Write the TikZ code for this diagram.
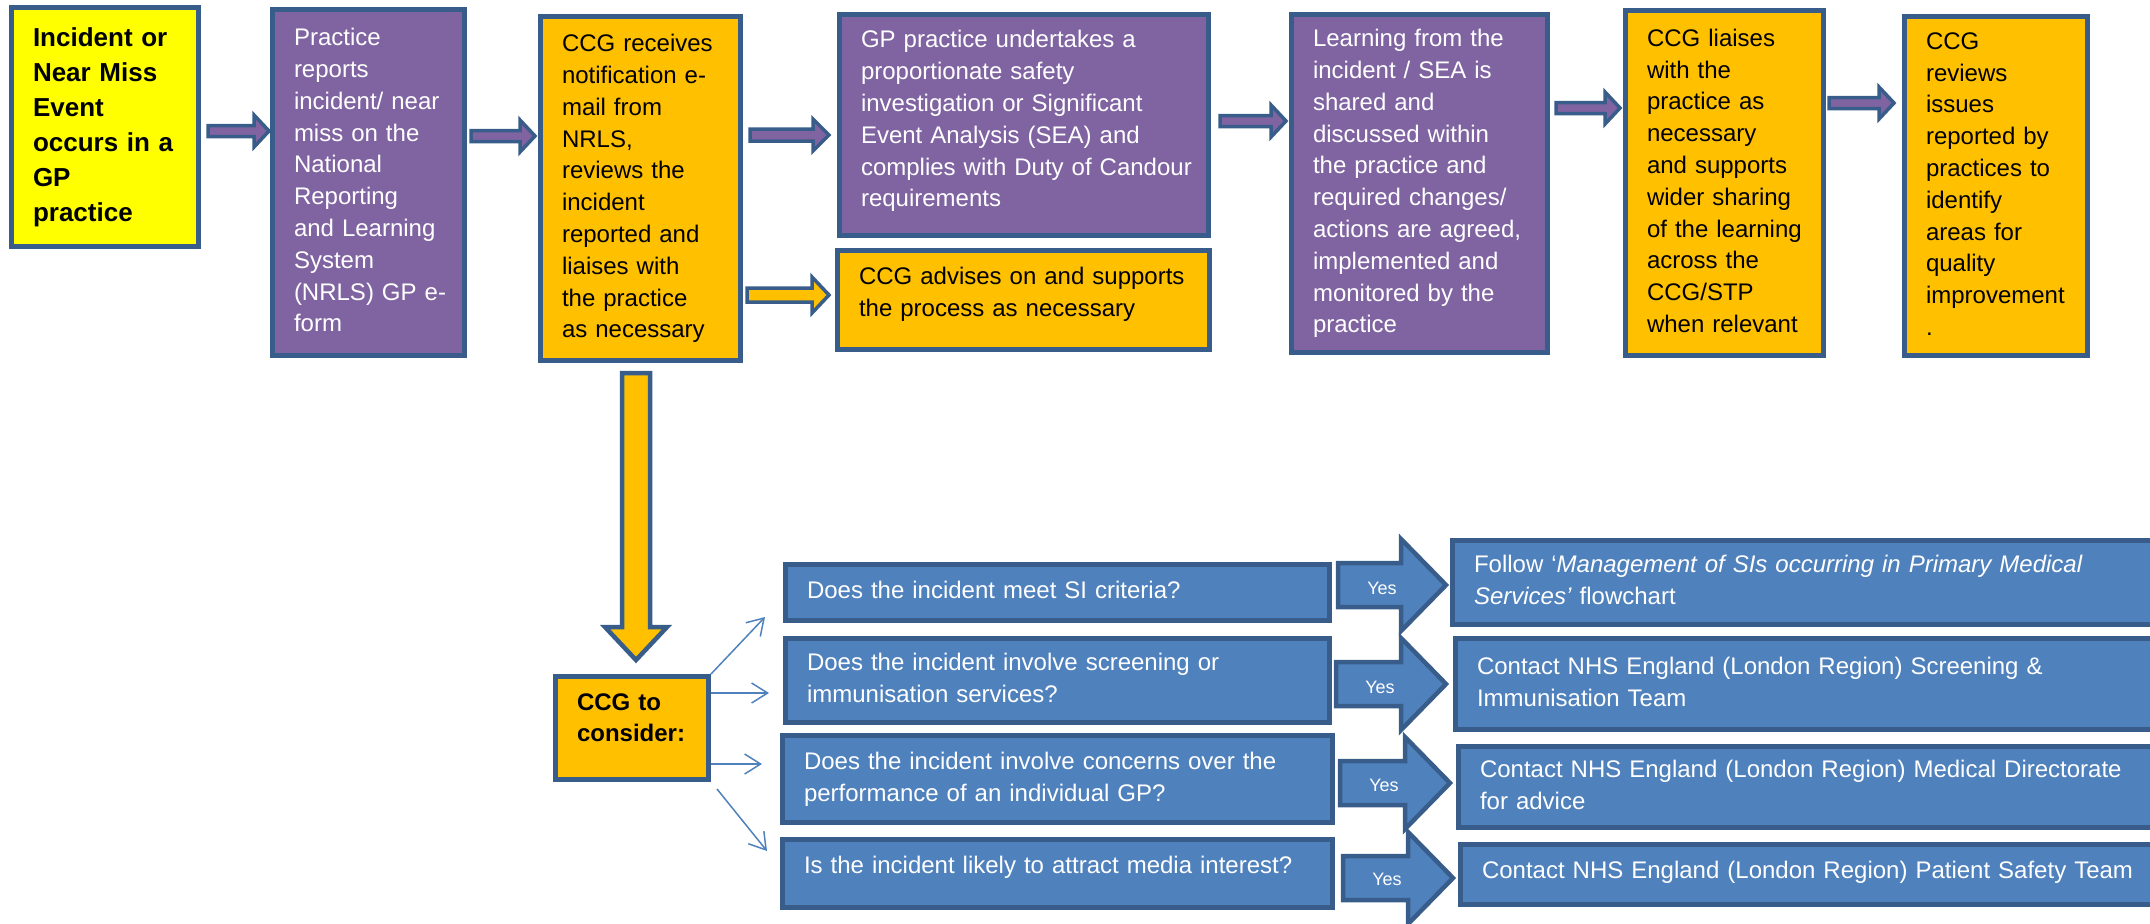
\documentclass[tikz,border=0pt]{standalone}
\usepackage{fontspec}
\setmainfont{Liberation Sans}
\usetikzlibrary{arrows.meta,calc}
\setlength{\parindent}{0pt}
\definecolor{outl}{HTML}{385D8A}
\definecolor{purp}{HTML}{8064A2}
\definecolor{orng}{HTML}{FFC000}
\definecolor{blu}{HTML}{4F81BD}
\definecolor{yel}{HTML}{FFFF00}
\tikzset{
  boxbase/.style={draw=outl, line width=2.5pt, inner xsep=10.75pt, inner ysep=0pt, align=left,
    font=\fontsize{12}{15.9}\selectfont},
  purplebox/.style={boxbase, fill=purp, text=white},
  orangebox/.style={boxbase, fill=orng, text=black},
  bluebox/.style={boxbase, fill=blu, text=white},
  yellowbox/.style={boxbase, fill=yel, text=black, font=\fontsize{13}{17.5}\selectfont\bfseries},
  considerbox/.style={boxbase, fill=orng, text=black, font=\fontsize{12}{15.5}\selectfont\bfseries},
  smallarrow/.style={draw=outl, line width=1.75pt, line join=miter},
  bigarrow/.style={draw=outl, line width=2.25pt, line join=miter},
  thinarrow/.style={draw=blu, line width=0.75pt, -{Straight Barb[length=8pt,width=10pt]}},
  yeslabel/.style={text=white, font=\fontsize{9}{11}\selectfont, inner sep=0pt},
}
\newcommand{\boxlines}[2][0]{\raisebox{#1pt}[\height][\depth]{\begin{tabular}{@{}l@{}}#2\end{tabular}}}
\newcommand{\flowbox}[8][0]{%
  \pgfmathsetlengthmacro{\myBW}{(#6-#4)*0.5pt-2.5pt}%
  \pgfmathsetlengthmacro{\myBH}{(#7-#5)*0.5pt-2.5pt}%
  \pgfmathsetlengthmacro{\myBT}{(#6-#4)*0.5pt-24pt}%
  \node[#2, minimum width=\myBW, minimum height=\myBH, text width=\myBT] (#3) at ({(#4+#6)/2},{(#5+#7)/2}) {\boxlines[#1]{#8}};}
\newcommand{\blockH}[6]{\draw[#1] ($(#2)+(0,-#4)$) -- ($(#3)+(-#6,-#4)$) -- ($(#3)+(-#6,-#5)$) -- (#3) -- ($(#3)+(-#6,#5)$) -- ($(#3)+(-#6,#4)$) -- ($(#2)+(0,#4)$) -- cycle;}
\newcommand{\blockV}[6]{\draw[#1] ($(#2)+(-#4,0)$) -- ($(#3)+(-#4,-#6)$) -- ($(#3)+(-#5,-#6)$) -- (#3) -- ($(#3)+(#5,-#6)$) -- ($(#3)+(#4,-#6)$) -- ($(#2)+(#4,0)$) -- cycle;}
\begin{document}
\begin{tikzpicture}[x=0.5pt,y=-0.5pt]
\useasboundingbox (0,0) rectangle (2150,923);
% top row
\flowbox{yellowbox}{ev}{9}{5}{201}{249}{Incident or\\Near Miss\\Event\\occurs in a\\GP\\practice}
\flowbox{purplebox}{rep}{270}{7}{467}{358}{Practice\\reports\\incident/ near\\miss on the\\National\\Reporting\\and Learning\\System\\(NRLS) GP e-\\form}
\flowbox{orangebox}{ccg}{538}{14}{743}{363}{CCG receives\\notification e-\\mail from\\NRLS,\\reviews the\\incident\\reported and\\liaises with\\the practice\\as necessary}
\flowbox[2]{purplebox}{gp}{837}{12}{1211}{238}{GP practice undertakes a\\proportionate safety\\investigation or Significant\\Event Analysis (SEA) and\\complies with Duty of Candour\\requirements}
\flowbox[3]{orangebox}{adv}{835}{248}{1212}{352}{CCG advises on and supports\\the process as necessary}
\flowbox{purplebox}{learn}{1289}{12}{1550}{355}{Learning from the\\incident / SEA is\\shared and\\discussed within\\the practice and\\required changes/\\actions are agreed,\\implemented and\\monitored by the\\practice}
\flowbox{orangebox}{liaise}{1623}{8}{1826}{358}{CCG liaises\\with the\\practice as\\necessary\\and supports\\wider sharing\\of the learning\\across the\\CCG/STP\\when relevant}
\flowbox{orangebox}{review}{1902}{14}{2090}{358}{CCG\\reviews\\issues\\reported by\\practices to\\identify\\areas for\\quality\\improvement\\.}
% top arrows
\coordinate (a1s) at (208,131); \coordinate (a1e) at (269,131);
\coordinate (a2s) at (471,136); \coordinate (a2e) at (535,136);
\coordinate (a3s) at (750,135); \coordinate (a3e) at (829,135);
\coordinate (a4s) at (747,295); \coordinate (a4e) at (829,295);
\coordinate (a5s) at (1220,121); \coordinate (a5e) at (1286,121);
\coordinate (a6s) at (1556,108); \coordinate (a6e) at (1620,108);
\coordinate (a7s) at (1829,103); \coordinate (a7e) at (1894,103);
\blockH{smallarrow,fill=purp}{a1s}{a1e}{5.5}{16}{15}
\blockH{smallarrow,fill=purp}{a2s}{a2e}{5.5}{16}{15}
\blockH{smallarrow,fill=purp}{a3s}{a3e}{6}{16}{16}
\blockH{smallarrow,fill=orng}{a4s}{a4e}{7}{18}{17}
\blockH{smallarrow,fill=purp}{a5s}{a5e}{5.5}{16}{15}
\blockH{smallarrow,fill=purp}{a6s}{a6e}{5.5}{16}{15}
\blockH{smallarrow,fill=purp}{a7s}{a7e}{5.5}{16}{15}
% down arrow
\coordinate (ds) at (636,373); \coordinate (de) at (636,660);
\blockV{bigarrow,fill=orng}{ds}{de}{14}{31}{33}
% consider
\flowbox[4]{considerbox}{cons}{553}{674}{711}{782}{CCG to\\consider:}
% questions
\flowbox{bluebox}{q1}{783}{562}{1332}{623}{Does the incident meet SI criteria?}
\flowbox{bluebox}{q2}{783}{636}{1332}{725}{Does the incident involve screening or\\immunisation services?}
\flowbox{bluebox}{q3}{780}{733}{1335}{825}{Does the incident involve concerns over the\\performance of an individual GP?}
\flowbox[3]{bluebox}{q4}{780}{837}{1335}{910}{Is the incident likely to attract media interest?}
% answers
\flowbox{bluebox}{r1}{1450}{538}{2200}{627}{Follow ‘\textit{Management of SIs occurring in Primary Medical}\\\textit{Services’} flowchart}
\flowbox{bluebox}{r2}{1453}{636}{2200}{732}{Contact NHS England (London Region) Screening \&\\Immunisation Team}
\flowbox{bluebox}{r3}{1456}{744}{2200}{830}{Contact NHS England (London Region) Medical Directorate\\for advice}
\flowbox[1]{bluebox}{r4}{1458}{842}{2200}{907}{Contact NHS England (London Region) Patient Safety Team}
% thin arrows
\coordinate (t1e) at (765,617);
\coordinate (t2e) at (769,693);
\coordinate (t3e) at (762,764);
\coordinate (t4e) at (767,851);
\draw[thinarrow] (cons.north east) -- (t1e);
\draw[thinarrow] (cons.east |- t2e) -- (t2e);
\draw[thinarrow] (cons.east |- t3e) -- (t3e);
\draw[thinarrow] ($(cons.south east)+(6,7)$) -- (t4e);
% yes arrows
\coordinate (y1s) at (1338,585); \coordinate (y1e) at (1446,585);
\coordinate (y2s) at (1336,684); \coordinate (y2e) at (1446,684);
\coordinate (y3s) at (1340,783); \coordinate (y3e) at (1450,783);
\coordinate (y4s) at (1343,878); \coordinate (y4e) at (1453,878);
\blockH{bigarrow,fill=blu}{y1s}{y1e}{22}{46}{45}
\blockH{bigarrow,fill=blu}{y2s}{y2e}{22}{46}{45}
\blockH{bigarrow,fill=blu}{y3s}{y3e}{22}{46}{45}
\blockH{bigarrow,fill=blu}{y4s}{y4e}{22}{46}{45}
\node[yeslabel] (yes1) at ($(y1s)+(44,3)$) {Yes};
\node[yeslabel] (yes2) at ($(y2s)+(44,3)$) {Yes};
\node[yeslabel] (yes3) at ($(y3s)+(44,2)$) {Yes};
\node[yeslabel] (yes4) at ($(y4s)+(44,1)$) {Yes};
\end{tikzpicture}
\end{document}
